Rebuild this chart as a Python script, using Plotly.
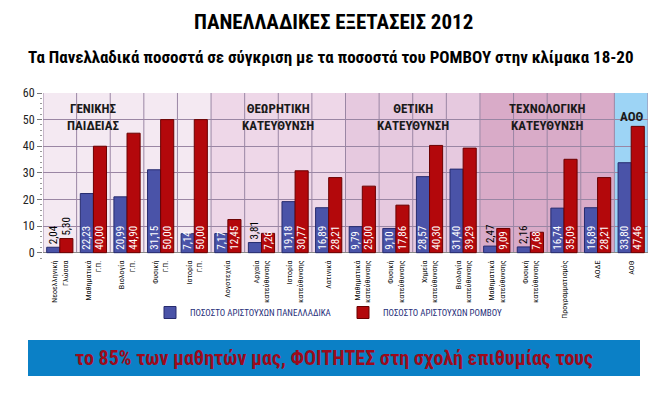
import plotly.graph_objects as go

categories = ["Νεοελληνική<br>Γλώσσα", "Μαθηματικά<br>Γ.Π.", "Βιολογία<br>Γ.Π.", "Φυσική<br>Γ.Π.", "Ιστορία<br>Γ.Π.",
              "Λογοτεχνία", "Αρχαία<br>κατεύθυνσης", "Ιστορία<br>κατεύθυνσης", "Λατινικά",
              "Μαθηματικά<br>κατεύθυνσης", "Φυσική<br>κατεύθυνσης", "Χημεία<br>κατεύθυνσης", "Βιολογία<br>κατεύθυνσης",
              "Μαθηματικά<br>κατεύθυνσης", "Φυσική<br>κατεύθυνσης", "Προγραμματισμός", "ΑΟΔΕ",
              "ΑΟΘ"]
panelladika = [2.04, 22.23, 20.99, 31.15, 7.14, 7.17, 3.81, 19.18, 16.89,
               9.79, 9.10, 28.57, 31.40, 2.47, 2.16, 16.74, 16.89, 33.80]
romvos = [5.30, 40.00, 44.90, 50.00, 50.00, 12.45, 7.26, 30.77, 28.21,
          25.00, 17.86, 40.30, 39.29, 9.09, 7.68, 35.09, 28.21, 47.46]
groups = ["ΓΕΝΙΚΗΣ<br>ΠΑΙΔΕΙΑΣ", "ΘΕΩΡΗΤΙΚΗ<br>ΚΑΤΕΥΘΥΝΣΗ", "ΘΕΤΙΚΗ<br>ΚΑΤΕΥΘΥΝΣΗ", "ΤΕΧΝΟΛΟΓΙΚΗ<br>ΚΑΤΕΥΘΥΝΣΗ", "ΑΟΘ"]
group_sizes = [5, 4, 4, 4, 1]
group_label_pos = [1, 6.5, 10.5, 14.5, 17]
group_colors = ["#f4e9f2", "#eed7e8", "#e6c9df", "#d9abc8", "#9dd4f5"]
series_names = ["ΠΟΣΟΣΤΟ ΑΡΙΣΤΟΥΧΩΝ ΠΑΝΕΛΛΑΔΙΚΑ", "ΠΟΣΟΣΤΟ ΑΡΙΣΤΟΥΧΩΝ ΡΟΜΒΟΥ"]
yticks = [0, 10, 20, 30, 40, 50, 60]

FONT = "Roboto Condensed, Liberation Sans Narrow, Liberation Sans, Arial, sans-serif"

W, H = 667, 398
L, R, T, B = 43, 648, 93, 258


def px2paper(x, y):
    return (x - L) / (R - L), (B - y) / (B - T)


x = list(range(len(categories)))


def fmt(v):
    return f"{v:.2f}".replace(".", ",")


def positions(vals):
    return ["inside" if v >= 7 else "outside" for v in vals]


fig = go.Figure()
fig.add_trace(go.Bar(
    x=x, y=panelladika, name=series_names[0],
    marker=dict(color="#4a53a8", line=dict(color="#262b6e", width=1)),
    text=[fmt(v) for v in panelladika], textposition=positions(panelladika),
    textangle=-90, insidetextanchor="start", constraintext="none",
    insidetextfont=dict(color="white", size=11, family=FONT),
    outsidetextfont=dict(color="black", size=11, family=FONT),
))
fig.add_trace(go.Bar(
    x=x, y=romvos, name=series_names[1],
    marker=dict(color="#b3080b", line=dict(color="#6a0000", width=1)),
    text=[fmt(v) for v in romvos], textposition=positions(romvos),
    textangle=-90, insidetextanchor="start", constraintext="none",
    insidetextfont=dict(color="white", size=11, family=FONT),
    outsidetextfont=dict(color="black", size=11, family=FONT),
))

shapes = []
start = -0.5
for size, col in zip(group_sizes, group_colors):
    shapes.append(dict(type="rect", xref="x", yref="y", x0=start, x1=start + size, y0=0, y1=60,
                       fillcolor=col, line=dict(width=0), layer="below"))
    start += size
for k in range(len(categories) + 1):
    shapes.append(dict(type="line", xref="x", yref="y", x0=k - 0.5, x1=k - 0.5, y0=0, y1=60,
                       line=dict(color="#9a86a4", width=1), layer="below"))
# banner
bx0, by0 = px2paper(28, 376)
bx1, by1 = px2paper(640, 340)
shapes.append(dict(type="rect", xref="paper", yref="paper", x0=bx0, x1=bx1, y0=by0, y1=by1,
                   fillcolor="#0b80c6", line=dict(width=0)))

annotations = []
for g, pos in zip(groups, group_label_pos):
    annotations.append(dict(x=pos, y=51, xref="x", yref="y", text=f"<b>{g}</b>", showarrow=False,
                            xanchor="center", yanchor="middle",
                            font=dict(size=13, color="#1a1a1a", family=FONT)))

tx, ty = px2paper(333, 22)
annotations.append(dict(x=tx, y=ty, xref="paper", yref="paper", text="<b>ΠΑΝΕΛΛΑΔΙΚΕΣ ΕΞΕΤΑΣΕΙΣ 2012</b>",
                        showarrow=False, xanchor="center", yanchor="middle",
                        font=dict(size=21, color="black", family=FONT)))
sx, sy = px2paper(331, 57)
annotations.append(dict(x=sx, y=sy, xref="paper", yref="paper",
                        text="<b>Τα Πανελλαδικά ποσοστά σε σύγκριση με τα ποσοστά του ΡΟΜΒΟΥ στην κλίμακα 18-20</b>",
                        showarrow=False, xanchor="center", yanchor="middle",
                        font=dict(size=17, color="black", family=FONT)))
mx, my = px2paper(334, 358)
annotations.append(dict(x=mx, y=my, xref="paper", yref="paper",
                        text="<b>το 85% των μαθητών μας, ΦΟΙΤΗΤΕΣ στη σχολή επιθυμίας τους</b>",
                        showarrow=False, xanchor="center", yanchor="middle",
                        font=dict(size=20, color="#9c0b1c", family=FONT)))

lx, ly = px2paper(150, 298)
fig.update_layout(
    width=W, height=H,
    margin=dict(l=L, r=W - R, t=T, b=H - B, pad=0),
    paper_bgcolor="white", plot_bgcolor="white",
    barmode="group", bargap=0.22, bargroupgap=0.0,
    shapes=shapes, annotations=annotations,
    showlegend=True,
    legend=dict(orientation="h", x=lx, y=ly, xanchor="left", yanchor="top",
                font=dict(size=9, color="#1f2f7a", family=FONT),
                entrywidth=148, entrywidthmode="pixels", bgcolor="rgba(0,0,0,0)"),
    xaxis=dict(range=[-0.5, len(categories) - 0.5], tickmode="array", tickvals=x, ticktext=categories,
               tickangle=-90, tickfont=dict(size=8, color="#111", family=FONT),
               showgrid=False, zeroline=False, showline=False, ticks=""),
    yaxis=dict(range=[-2, 60], tickmode="array", tickvals=yticks,
               tickfont=dict(size=12, color="#222", family=FONT),
               showgrid=True, gridcolor="#9a86a4", gridwidth=1,
               zeroline=True, zerolinecolor="#888888", zerolinewidth=1,
               ticks="outside", ticklen=5, tickcolor="#777",
               minor=dict(dtick=2, ticks="outside", ticklen=2, tickcolor="#999", showgrid=False),
               showline=False),
    font=dict(family=FONT),
)

fig.write_html("out.html", config={"displayModeBar": False},
               post_script="document.body.style.margin='0';")
